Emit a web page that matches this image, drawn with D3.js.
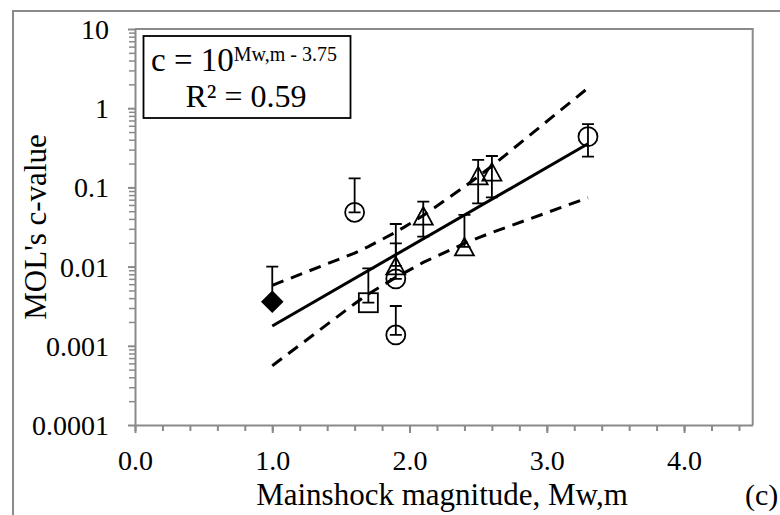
<!DOCTYPE html>
<html>
<head>
<meta charset="utf-8">
<script src="https://cdnjs.cloudflare.com/ajax/libs/d3/7.8.5/d3.min.js"></script>
<style>
  body { margin: 0; background: #fff; }
  svg { display: block; font-family: "Liberation Serif", "Times New Roman", serif; }
</style>
</head>
<body>
<div id="container"></div>
<script>
// mainshock magnitude and MOL c-value per sequence, with error bar ends
var magnitude = [1.0, 1.7, 1.6, 1.9, 1.9, 1.9, 2.1, 2.4, 2.5, 2.6, 3.3],
    cValue    = [0.0036, 0.0035, 0.0485, 0.0070, 0.00137, 0.0102, 0.0435, 0.0177, 0.14, 0.156, 0.437],
    errUpper  = [0.0100, 0.0095, 0.130, 0.0197, 0.00318, 0.0345, 0.066, 0.0449, 0.222, 0.249, 0.63],
    errLower  = [0.0036, 0.0035, 0.0485, 0.0070, 0.00137, 0.0102, 0.0239, 0.0177, 0.063, 0.075, 0.244],
    markers   = ['diamond', 'square', 'circle', 'circle', 'circle', 'triangle', 'triangle', 'triangle', 'triangle', 'triangle', 'circle'];

// fitted line c = 10^(Mw,m - 3.75)
var fitMw = [1.0, 3.3],
    fitC  = [0.00178, 0.355];

// dashed bounds around the fit
var bandMw    = [1.0, 1.6, 1.7, 1.9, 2.1, 2.4, 2.5, 2.6, 3.3],
    bandUpper = [0.0058, 0.0148, 0.0179, 0.0272, 0.0442, 0.102, 0.137, 0.186, 1.8],
    bandLower = [0.00056, 0.0034, 0.0045, 0.0073, 0.0113, 0.0196, 0.0231, 0.0269, 0.074];

var xMajor = [0, 1, 2, 3, 4],
    yMajor = [0.0001, 0.001, 0.01, 0.1, 1, 10],
    yLabels = ['0.0001', '0.001', '0.01', '0.1', '1', '10'];

var W = 780, H = 515,
    plot = {left: 135, top: 29, right: 752.7, bottom: 425},
    grey = '#8a8a8a',
    serif = '"Liberation Serif", "Times New Roman", serif';

var svg = d3.select('#container').append('svg')
    .attr('width', W)
    .attr('height', H);

// chart frame
svg.append('rect')
    .attr('x', 13).attr('y', 11)
    .attr('width', 820).attr('height', 560)
    .attr('fill', 'none').attr('stroke', grey).attr('stroke-width', 2);

var xScale = d3.scaleLinear().domain([0, 4.5]).range([plot.left, plot.right]);
var yScale = d3.scaleLog().domain([0.0001, 10]).range([plot.bottom, plot.top]);

// plot area border (top and right)
svg.append('path')
    .attr('d', `M${plot.left},${plot.top}H${plot.right}V${plot.bottom}`)
    .attr('fill', 'none').attr('stroke', grey).attr('stroke-width', 2);

/* x axis: minor ticks every 0.2, labelled majors */
var xMinor = d3.range(0, 4.41, 0.2);
svg.append('g')
    .attr('transform', `translate(0,${plot.bottom})`)
    .call(d3.axisBottom(xScale).tickValues(xMinor).tickSize(6).tickFormat(''))
    .call(g => g.select('.domain').remove())
    .selectAll('line').attr('stroke', grey).attr('stroke-width', 2);

var xAxis = svg.append('g')
    .attr('transform', `translate(0,${plot.bottom})`)
    .call(d3.axisBottom(xScale).tickValues(xMajor).tickSize(8).tickSizeOuter(0).tickFormat(d3.format('.1f')));
xAxis.select('.domain').attr('stroke', grey).attr('stroke-width', 2);
xAxis.selectAll('line').attr('stroke', grey).attr('stroke-width', 2);
xAxis.selectAll('text')
    .attr('y', 45).attr('dy', 0)
    .attr('font-size', 28).attr('fill', '#000')
    .attr('font-family', serif);

/* y axis: log decades with minor ticks 2..9 */
var yMinor = [];
yMajor.slice(0, -1).forEach(d => { for (var k = 2; k < 10; k++) yMinor.push(d * k); });
svg.append('g')
    .attr('transform', `translate(${plot.left},0)`)
    .call(d3.axisLeft(yScale).tickValues(yMinor).tickSize(6).tickFormat(''))
    .call(g => g.select('.domain').remove())
    .selectAll('line').attr('stroke', grey).attr('stroke-width', 1.5);

var yAxis = svg.append('g')
    .attr('transform', `translate(${plot.left},0)`)
    .call(d3.axisLeft(yScale).tickValues(yMajor).tickSize(7).tickSizeOuter(0)
        .tickFormat((d, i) => yLabels[i]));
yAxis.select('.domain').attr('stroke', grey).attr('stroke-width', 2);
yAxis.selectAll('line').attr('stroke', grey).attr('stroke-width', 2);
yAxis.selectAll('text')
    .attr('x', -26).attr('dy', '0.34em')
    .attr('font-size', 28).attr('fill', '#000')
    .attr('font-family', serif);

// axis titles
svg.append('text')
    .attr('x', 442).attr('y', 505)
    .attr('text-anchor', 'middle').attr('font-size', 31)
    .text('Mainshock magnitude, Mw,m');
svg.append('text')
    .attr('x', 745).attr('y', 505)
    .attr('font-size', 30)
    .text('(c)');
svg.append('text')
    .attr('transform', `translate(46,${(plot.top + plot.bottom) / 2}) rotate(-90)`)
    .attr('text-anchor', 'middle').attr('font-size', 31)
    .text("MOL's c-value");

/* bounds and fit */
var bandLine = d3.line().x(d => xScale(d[0])).y(d => yScale(d[1]));
[bandUpper, bandLower].forEach(b => {
    svg.append('path')
        .datum(bandMw.map((m, i) => [m, b[i]]))
        .attr('d', bandLine)
        .attr('fill', 'none').attr('stroke', '#000')
        .attr('stroke-width', 3).attr('stroke-dasharray', '12,8');
});
svg.append('path')
    .datum(fitMw.map((m, i) => [m, fitC[i]]))
    .attr('d', bandLine)
    .attr('fill', 'none').attr('stroke', '#000').attr('stroke-width', 3);

/* error bars */
var pts = magnitude.map((m, i) => ({m: m, c: cValue[i], hi: errUpper[i], lo: errLower[i], shape: markers[i]}));
var capW = 6;
var errG = svg.append('g').attr('stroke', '#000').attr('stroke-width', 1.8).attr('fill', 'none');
pts.forEach(p => {
    var x = xScale(p.m);
    errG.append('path').attr('d',
        `M${x},${yScale(p.lo)}V${yScale(p.hi)}` +
        `M${x - capW},${yScale(p.hi)}H${x + capW}` +
        `M${x - capW},${yScale(p.lo)}H${x + capW}`);
});

/* markers */
var markG = svg.append('g').attr('stroke', '#000').attr('stroke-width', 1.8);
pts.forEach(p => {
    var x = xScale(p.m), y = yScale(p.c);
    if (p.shape === 'circle') {
        markG.append('circle').attr('cx', x).attr('cy', y).attr('r', 9.5).attr('fill', 'none');
    } else if (p.shape === 'square') {
        markG.append('rect').attr('x', x - 9.5).attr('y', y - 9.5)
            .attr('width', 19).attr('height', 19).attr('fill', 'none');
    } else if (p.shape === 'triangle') {
        markG.append('path')
            .attr('d', `M${x},${y - 9}L${x + 9.5},${y + 8.5}L${x - 9.5},${y + 8.5}Z`)
            .attr('fill', 'none');
    } else {
        markG.append('path')
            .attr('d', `M${x},${y - 10}L${x + 10},${y}L${x},${y + 10}L${x - 10},${y}Z`)
            .attr('fill', '#000');
    }
});

/* equation box */
var box = svg.append('g');
box.append('rect')
    .attr('x', 143.5).attr('y', 36)
    .attr('width', 207).attr('height', 82)
    .attr('fill', '#fff').attr('stroke', '#000').attr('stroke-width', 1.8);
var eq = box.append('text').attr('x', 151).attr('y', 71).attr('font-size', 33);
eq.append('tspan').text('c = 10');
eq.append('tspan').attr('dy', -10).attr('font-size', 20).text('Mw,m - 3.75');
box.append('text')
    .attr('x', 246).attr('y', 107)
    .attr('text-anchor', 'middle').attr('font-size', 32)
    .text('R² = 0.59');
</script>
</body>
</html>
